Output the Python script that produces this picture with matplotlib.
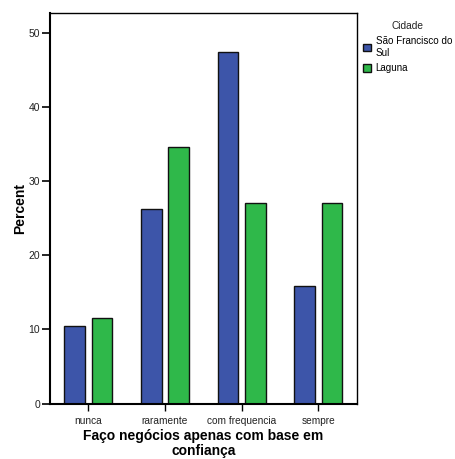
import matplotlib.pyplot as plt
import numpy as np
from matplotlib.patches import Patch

plt.rcParams['font.family'] = ['Liberation Sans', 'DejaVu Sans']

categories = ['nunca', 'raramente', 'com frequencia', 'sempre']
sao_francisco = [10.5, 26.3, 47.4, 15.8]
laguna = [11.6, 34.6, 27.0, 27.0]
series_names = ['São Francisco do\nSul', 'Laguna']
colors = ['#3d55a9', '#2fb84a']

x = np.arange(len(categories))
width = 0.27
offset = 0.177

fig = plt.figure(figsize=(4.55, 4.59), dpi=100)
ax = fig.add_axes([50 / 455, 1 - 403.7 / 459, 306.7 / 455, 390.4 / 459])

ax.bar(x - offset, sao_francisco, width, color=colors[0], edgecolor='#111111', linewidth=1.0)
ax.bar(x + offset, laguna, width, color=colors[1], edgecolor='#111111', linewidth=1.0)

ax.set_xlim(-0.5, 3.5)
ax.set_ylim(0, 52.6)
ax.set_xticks(x)
ax.set_xticklabels(categories, fontsize=7.3, color='#222222')
ax.set_yticks([0, 10, 20, 30, 40, 50])
ax.tick_params(axis='y', labelsize=7.5, length=6, width=1.2, direction='out', pad=1, labelcolor='#222222')
ax.tick_params(axis='x', length=5, width=1.0, direction='out', pad=4)

for side in ['left', 'bottom']:
    ax.spines[side].set_linewidth(1.5)
for side in ['top', 'right']:
    ax.spines[side].set_linewidth(1.0)

ax.set_ylabel('Percent', fontsize=10, fontweight='bold', labelpad=1)
ax.set_xlabel('Faço negócios apenas com base em\nconfiança', fontsize=10,
              fontweight='bold', labelpad=2, linespacing=1.05)

handles = [Patch(facecolor=c, edgecolor='#111111', linewidth=1.0) for c in colors]
leg = fig.legend(handles, series_names, title='Cidade', loc='upper left',
                 bbox_to_anchor=(357 / 455, 1 - 15 / 459), frameon=False,
                 fontsize=7.1, title_fontsize=7.3, handlelength=0.8, handleheight=0.8,
                 handletextpad=0.5, labelspacing=0.55, borderaxespad=0.2)
leg.get_title().set_color('#222222')

fig.savefig('out.png', dpi=100)
